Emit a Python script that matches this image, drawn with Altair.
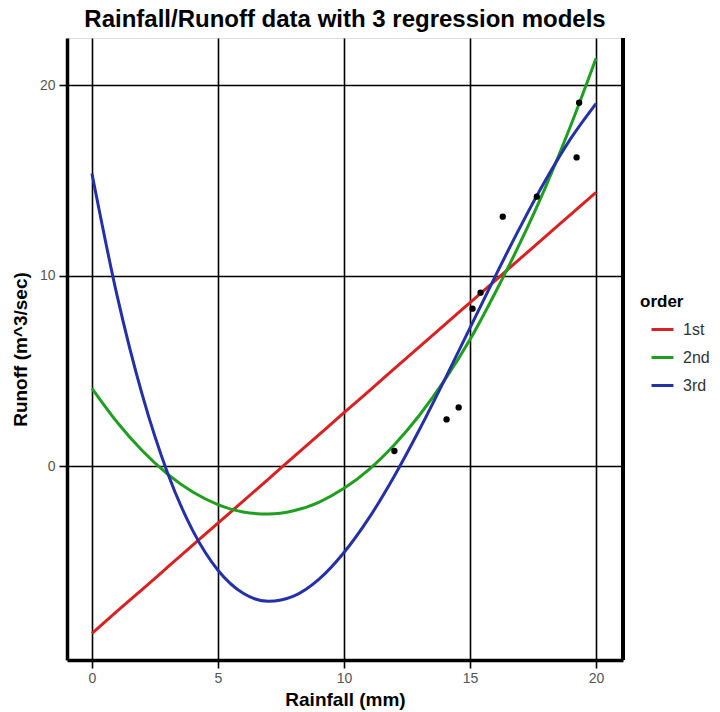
import altair as alt
import pandas as pd

# ---- data ----
fit_x = [0, 1, 2, 3, 4, 5, 6, 7, 8, 9, 10, 11, 12, 13, 14, 15, 16, 17, 18, 19, 20]
first_order = [-8.78, -7.62, -6.47, -5.31, -4.15, -2.99, -1.84, -0.68, 0.48, 1.64, 2.80,
               3.95, 5.11, 6.27, 7.43, 8.58, 9.74, 10.90, 12.06, 13.21, 14.37]
second_order = [4.08, 2.30, 0.80, -0.42, -1.36, -2.02, -2.41, -2.52, -2.35, -1.90, -1.17,
                -0.17, 1.12, 2.68, 4.52, 6.64, 9.10, 11.75, 14.66, 17.89, 21.40]
third_order = [15.36, 8.93, 3.72, -0.36, -3.39, -5.47, -6.68, -7.10, -6.83, -5.95, -4.54,
               -2.71, -0.52, 1.93, 4.55, 7.25, 9.96, 12.57, 15.01, 17.20, 19.03]
order_names = ["1st", "2nd", "3rd"]
order_colors = ["#d92121", "#1f9e1f", "#2330a8"]

rain = [12.0, 14.07, 14.55, 15.1, 15.42, 16.3, 17.65, 19.23, 19.33]
runoff = [0.79, 2.45, 3.08, 8.26, 9.1, 13.09, 14.14, 16.2, 19.07]

x_ticks = [0, 5, 10, 15, 20]
y_ticks = [0, 10, 20]

rows = []
for name, ys in zip(order_names, [first_order, second_order, third_order]):
    for xv, yv in zip(fit_x, ys):
        rows.append({"Rainfall": xv, "Runoff": yv, "order": name})
fits = pd.DataFrame(rows)
pts = pd.DataFrame({"Rainfall": rain, "Runoff": runoff})

W, H = 556, 622
FONT = "Liberation Sans"

xscale = alt.Scale(domain=[-0.99, 21.07], nice=False, zero=False)
yscale = alt.Scale(domain=[-10.18, 22.47], nice=False, zero=False)

xaxis = alt.Axis(values=x_ticks, grid=True, gridColor="black", gridWidth=1.6, gridOpacity=1,
                 domainColor="black", domainWidth=3.5, tickColor="black", tickWidth=1.6,
                 tickSize=8, labelColor="#555555", labelFontSize=14, labelFont=FONT,
                 labelPadding=3, title="Rainfall (mm)", titleFont=FONT, titleFontSize=19,
                 titleFontWeight="bold", titleColor="black", titlePadding=5)
yaxis = alt.Axis(values=y_ticks, grid=True, gridColor="black", gridWidth=1.6, gridOpacity=1,
                 domainColor="black", domainWidth=3.5, tickColor="black", tickWidth=1.6,
                 tickSize=8, labelColor="#555555", labelFontSize=14, labelFont=FONT,
                 labelPadding=4, title="Runoff (m^3/sec)", titleFont=FONT, titleFontSize=19,
                 titleFontWeight="bold", titleColor="black", titlePadding=9)

lines = alt.Chart(fits).mark_line(strokeWidth=3, interpolate="monotone").encode(
    x=alt.X("Rainfall:Q", scale=xscale, axis=xaxis),
    y=alt.Y("Runoff:Q", scale=yscale, axis=yaxis),
    color=alt.Color("order:N", scale=alt.Scale(domain=order_names, range=order_colors),
                    legend=alt.Legend(title="order", orient="none", legendX=573, legendY=256,
                                      titleFont=FONT, titleFontSize=17, titleFontWeight="bold",
                                      titleColor="black", labelFont=FONT, labelFontSize=16,
                                      labelColor="#333333", symbolType="stroke",
                                      symbolStrokeWidth=3, symbolSize=480, rowPadding=7,
                                      symbolOffset=10, labelOffset=8, titlePadding=6)),
)

points = alt.Chart(pts).mark_circle(size=40, color="black", opacity=1).encode(
    x=alt.X("Rainfall:Q", scale=xscale),
    y=alt.Y("Runoff:Q", scale=yscale),
)

right_border = alt.Chart(pts).mark_rule(color="black", strokeWidth=3.5).encode(
    x=alt.value(W), y=alt.value(0), y2=alt.value(H)
)

chart = alt.layer(lines, points, right_border).properties(
    width=W, height=H,
    title=alt.TitleParams("Rainfall/Runoff data with 3 regression models", font=FONT,
                          fontSize=24, fontWeight="bold", color="black", anchor="middle",
                          offset=4),
    autosize=alt.AutoSizeParams(type="none"),
    padding={"left": 67, "top": 38, "right": 97, "bottom": 52},
).configure_view(stroke=None).configure(background="white")

chart.save("out.html", embed_options={"renderer": "svg", "actions": False})
